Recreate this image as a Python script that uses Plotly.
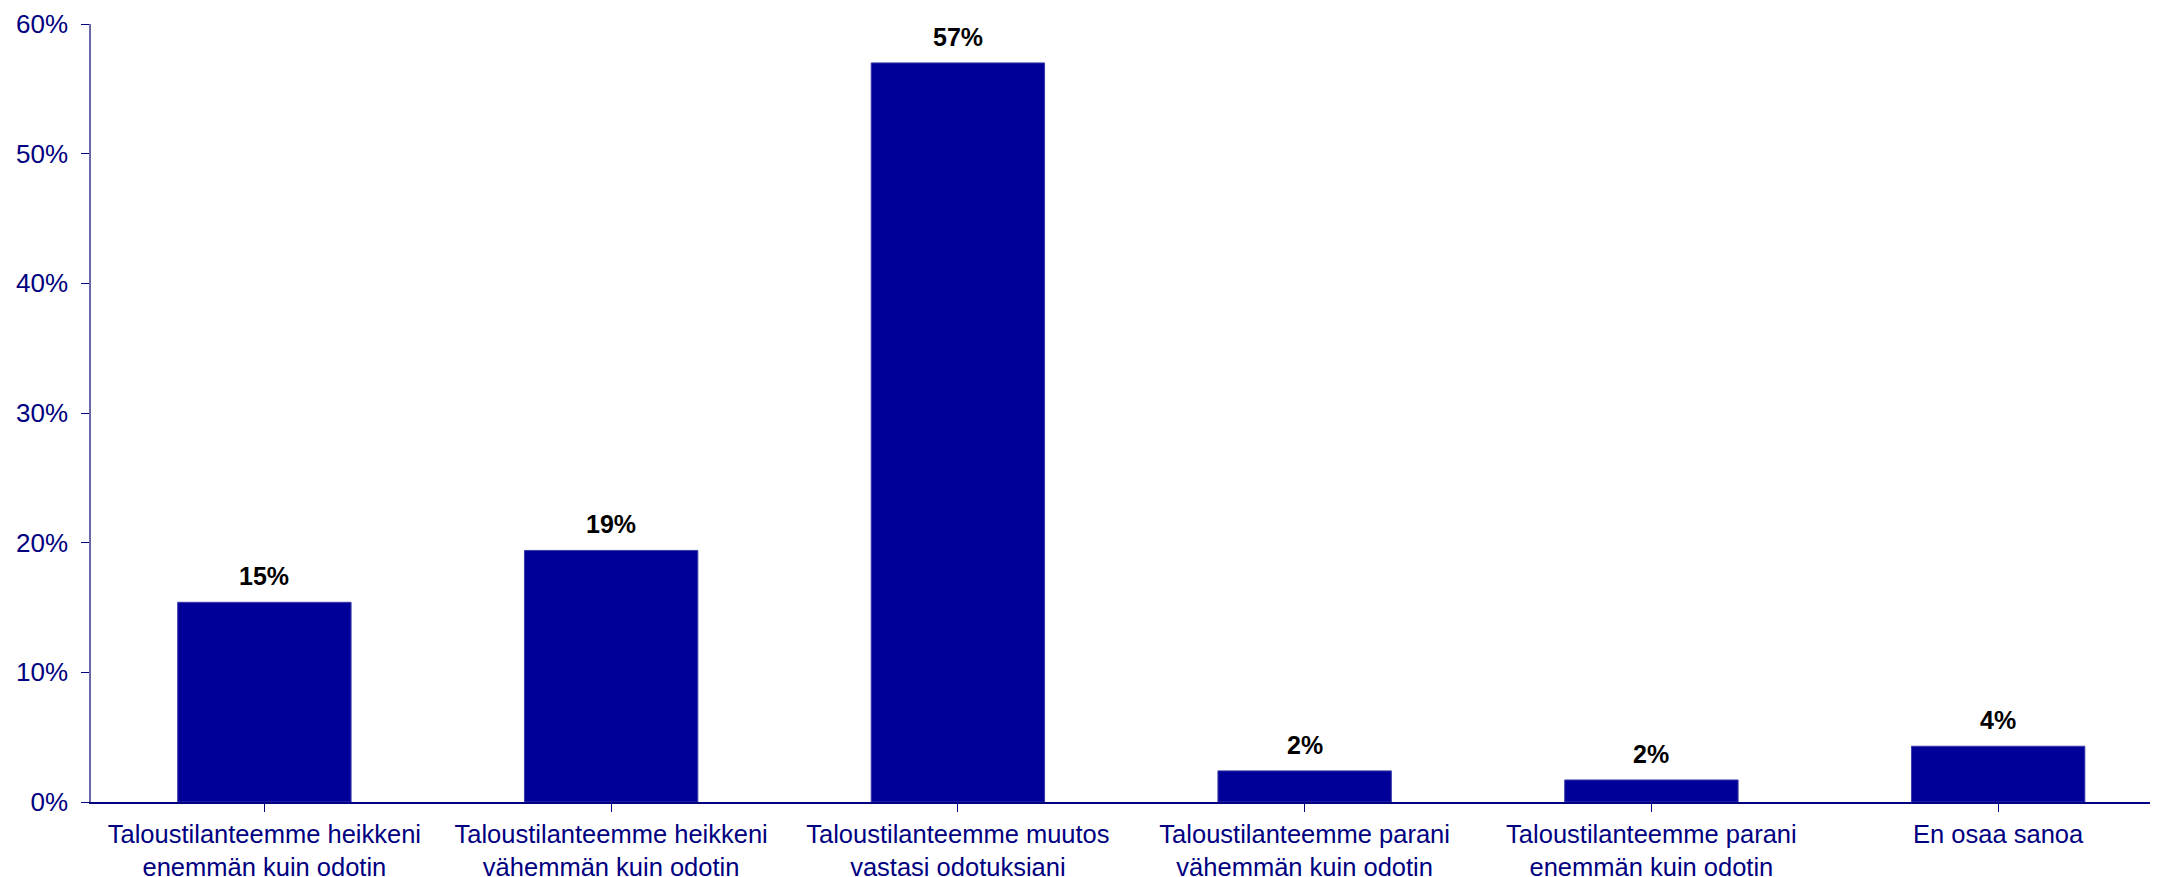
import plotly.graph_objects as go

categories = [
    "Taloustilanteemme heikkeni<br>enemmän kuin odotin",
    "Taloustilanteemme heikkeni<br>vähemmän kuin odotin",
    "Taloustilanteemme muutos<br>vastasi odotuksiani",
    "Taloustilanteemme parani<br>vähemmän kuin odotin",
    "Taloustilanteemme parani<br>enemmän kuin odotin",
    "En osaa sanoa",
]
values = [15.4, 19.4, 57.0, 2.4, 1.7, 4.3]
ytick_vals = [0, 10, 20, 30, 40, 50, 60]
ytick_text = [f"{v}%" for v in ytick_vals]

x_idx = list(range(len(categories)))

fig = go.Figure()
fig.add_trace(go.Bar(
    x=x_idx, y=values, width=0.5,
    marker=dict(color="#000099", line=dict(color="#3a3aaa", width=1)),
    hoverinfo="skip",
))

for i, v in zip(x_idx, values):
    fig.add_annotation(
        x=i, y=v, text=f"<b>{v:.0f}%</b>", showarrow=False,
        yanchor="bottom", yshift=10,
        font=dict(family="Liberation Sans", size=25, color="#000000"),
    )

fig.update_layout(
    width=2150, height=869,
    margin=dict(l=83, r=0, t=16, b=75),
    paper_bgcolor="white", plot_bgcolor="white",
    showlegend=False,
    font=dict(family="Liberation Sans", size=25, color="#000080"),
)
fig.update_xaxes(
    range=[-0.5, 5.461],
    tickmode="array", tickvals=x_idx, ticktext=categories,
    tickson="boundaries", ticks="outside", ticklen=8, tickcolor="#000080", tickwidth=1,
    showline=True, linecolor="#000080", linewidth=2,
    showgrid=False, zeroline=False, automargin=False,
    tickfont=dict(family="Liberation Sans", size=25.5, color="#000080"),
    ticklabelstandoff=0,
)
fig.update_yaxes(
    range=[0, 60],
    tickmode="array", tickvals=ytick_vals, ticktext=ytick_text,
    ticks="outside", ticklen=8, tickcolor="#000080", tickwidth=1,
    showline=True, linecolor="#6a6aa8", linewidth=1.5,
    showgrid=False, zeroline=False, automargin=False,
    tickfont=dict(family="Liberation Sans", size=26, color="#000080"),
    ticklabelstandoff=8,
)

fig.write_html("out.html")
